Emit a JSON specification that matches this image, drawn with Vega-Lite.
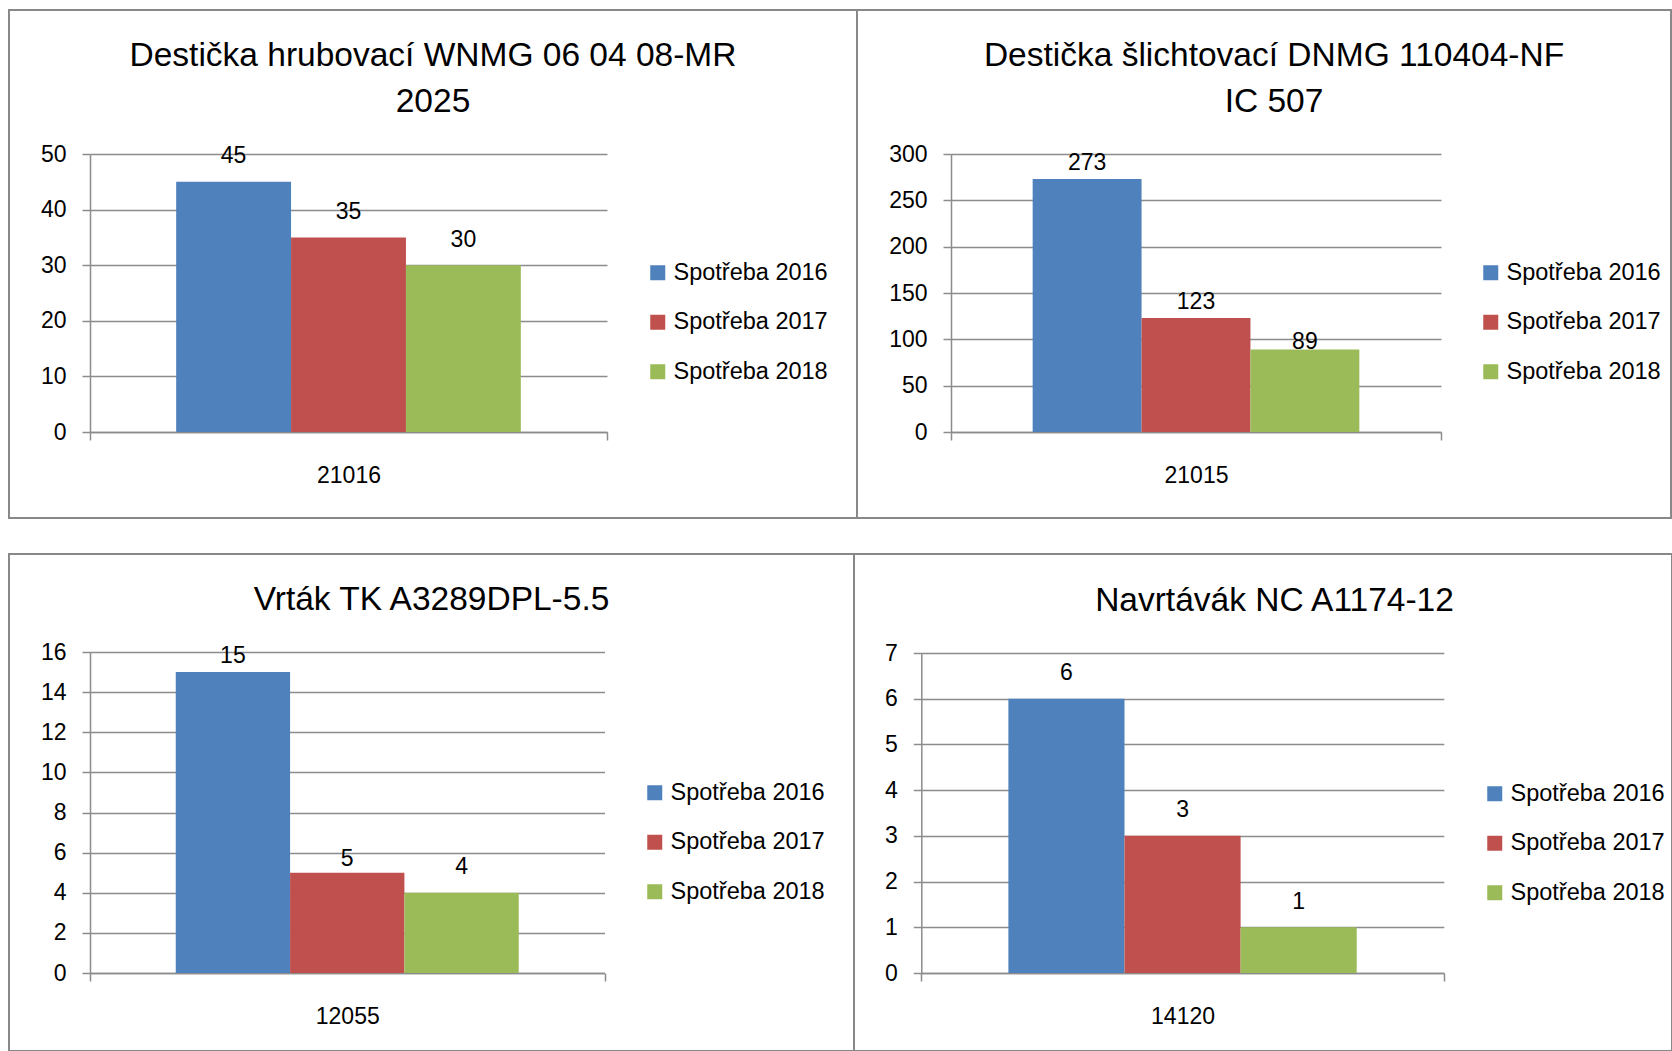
{
  "$schema": "https://vega.github.io/schema/vega-lite/v6.json",
  "padding": {"left": 8, "top": 9, "right": 0, "bottom": 0},
  "background": "white",
  "spacing": 34,
  "resolve": {"scale": {"color": "independent", "xOffset": "independent"}, "legend": {"color": "independent"}},
  "datasets": {
    "d1": [
      {"cat": "21016", "series": "Spotřeba 2016", "value": 45},
      {"cat": "21016", "series": "Spotřeba 2017", "value": 35},
      {"cat": "21016", "series": "Spotřeba 2018", "value": 30}
    ],
    "d2": [
      {"cat": "21015", "series": "Spotřeba 2016", "value": 273},
      {"cat": "21015", "series": "Spotřeba 2017", "value": 123},
      {"cat": "21015", "series": "Spotřeba 2018", "value": 89}
    ],
    "d3": [
      {"cat": "12055", "series": "Spotřeba 2016", "value": 15},
      {"cat": "12055", "series": "Spotřeba 2017", "value": 5},
      {"cat": "12055", "series": "Spotřeba 2018", "value": 4}
    ],
    "d4": [
      {"cat": "14120", "series": "Spotřeba 2016", "value": 6},
      {"cat": "14120", "series": "Spotřeba 2017", "value": 3},
      {"cat": "14120", "series": "Spotřeba 2018", "value": 1}
    ]
  },
  "vconcat": [
    {
      "spacing": 0,
      "bounds": "flush",
      "resolve": {"scale": {"color": "independent", "xOffset": "independent"}, "legend": {"color": "independent"}},
      "hconcat": [
        {
          "width": 848, "height": 508,
          "data": {"name": "d1"},
          "title": {"text": ["Destička hrubovací WNMG 06 04 08-MR", "2025"], "offset": -109},
          "encoding": {
            "x": {"field": "cat", "type": "nominal", "scale": {"range": [81, 598], "paddingInner": 0, "paddingOuter": 0}, "axis": {"offset": -86, "tickBand": "extent", "labelAngle": 0, "title": null, "ticks": true, "grid": false}},
            "xOffset": {"field": "series", "type": "nominal", "scale": {"paddingInner": 0, "paddingOuter": 0.75}},
            "y": {"field": "value", "type": "quantitative", "scale": {"domain": [0, 50], "range": [422, 144], "nice": false}, "axis": {"values": [0, 10, 20, 30, 40, 50], "offset": -81, "title": null, "grid": true}}
          },
          "layer": [
            {"mark": "bar", "encoding": {"color": {"field": "series", "type": "nominal", "scale": {"domain": ["Spotřeba 2016", "Spotřeba 2017", "Spotřeba 2018"], "range": ["#4F81BD", "#C0504D", "#9BBB59"]}, "legend": {"title": null, "orient": "none", "legendX": 637, "legendY": 251}}}},
            {"mark": {"type": "text", "dy": -18.5, "baseline": "alphabetic"}, "encoding": {"text": {"field": "value", "type": "quantitative"}}}
          ]
        },
        {
          "width": 814, "height": 508,
          "data": {"name": "d2"},
          "title": {"text": ["Destička šlichtovací DNMG 110404-NF", "IC 507"], "offset": -109, "dx": 10},
          "encoding": {
            "x": {"field": "cat", "type": "nominal", "scale": {"range": [94, 584], "paddingInner": 0, "paddingOuter": 0}, "axis": {"offset": -86, "tickBand": "extent", "labelAngle": 0, "title": null, "ticks": true, "grid": false}},
            "xOffset": {"field": "series", "type": "nominal", "scale": {"paddingInner": 0, "paddingOuter": 0.75}},
            "y": {"field": "value", "type": "quantitative", "scale": {"domain": [0, 300], "range": [422, 144], "nice": false}, "axis": {"values": [0, 50, 100, 150, 200, 250, 300], "offset": -94, "title": null, "grid": true}}
          },
          "layer": [
            {"mark": "bar", "encoding": {"color": {"field": "series", "type": "nominal", "scale": {"domain": ["Spotřeba 2016", "Spotřeba 2017", "Spotřeba 2018"], "range": ["#4F81BD", "#C0504D", "#9BBB59"]}, "legend": {"title": null, "orient": "none", "legendX": 622, "legendY": 251}}}},
            {"transform": [{"filter": "datum.series != 'Spotřeba 2018'"}], "mark": {"type": "text", "dy": -9, "baseline": "alphabetic"}, "encoding": {"text": {"field": "value", "type": "quantitative"}}},
            {"transform": [{"filter": "datum.series == 'Spotřeba 2018'"}], "mark": {"type": "text", "dy": -1, "baseline": "alphabetic"}, "encoding": {"text": {"field": "value", "type": "quantitative"}}}
          ]
        }
      ]
    },
    {
      "spacing": 0,
      "bounds": "flush",
      "resolve": {"scale": {"color": "independent", "xOffset": "independent"}, "legend": {"color": "independent"}},
      "hconcat": [
        {
          "width": 845, "height": 497,
          "data": {"name": "d3"},
          "title": {"text": "Vrták TK A3289DPL-5.5", "offset": -63},
          "encoding": {
            "x": {"field": "cat", "type": "nominal", "scale": {"range": [81, 595.5], "paddingInner": 0, "paddingOuter": 0}, "axis": {"offset": -78, "tickBand": "extent", "labelAngle": 0, "title": null, "ticks": true, "grid": false}},
            "xOffset": {"field": "series", "type": "nominal", "scale": {"paddingInner": 0, "paddingOuter": 0.75}},
            "y": {"field": "value", "type": "quantitative", "scale": {"domain": [0, 16], "range": [419, 98], "nice": false}, "axis": {"values": [0, 2, 4, 6, 8, 10, 12, 14, 16], "offset": -81, "title": null, "grid": true}}
          },
          "layer": [
            {"mark": "bar", "encoding": {"color": {"field": "series", "type": "nominal", "scale": {"domain": ["Spotřeba 2016", "Spotřeba 2017", "Spotřeba 2018"], "range": ["#4F81BD", "#C0504D", "#9BBB59"]}, "legend": {"title": null, "orient": "none", "legendX": 634, "legendY": 227}}}},
            {"transform": [{"filter": "datum.series == 'Spotřeba 2016'"}], "mark": {"type": "text", "dy": -9, "baseline": "alphabetic"}, "encoding": {"text": {"field": "value", "type": "quantitative"}}},
            {"transform": [{"filter": "datum.series == 'Spotřeba 2017'"}], "mark": {"type": "text", "dy": -7, "baseline": "alphabetic"}, "encoding": {"text": {"field": "value", "type": "quantitative"}}},
            {"transform": [{"filter": "datum.series == 'Spotřeba 2018'"}], "mark": {"type": "text", "dy": -18.5, "baseline": "alphabetic"}, "encoding": {"text": {"field": "value", "type": "quantitative"}}}
          ]
        },
        {
          "width": 818, "height": 497,
          "data": {"name": "d4"},
          "title": {"text": "Navrtávák NC A1174-12", "offset": -64, "dx": 11.5},
          "encoding": {
            "x": {"field": "cat", "type": "nominal", "scale": {"range": [67.3, 589.8], "paddingInner": 0, "paddingOuter": 0}, "axis": {"offset": -78, "tickBand": "extent", "labelAngle": 0, "title": null, "ticks": true, "grid": false}},
            "xOffset": {"field": "series", "type": "nominal", "scale": {"paddingInner": 0, "paddingOuter": 0.75}},
            "y": {"field": "value", "type": "quantitative", "scale": {"domain": [0, 7], "range": [419, 99], "nice": false}, "axis": {"values": [0, 1, 2, 3, 4, 5, 6, 7], "offset": -67.3, "title": null, "grid": true}}
          },
          "layer": [
            {"mark": "bar", "encoding": {"color": {"field": "series", "type": "nominal", "scale": {"domain": ["Spotřeba 2016", "Spotřeba 2017", "Spotřeba 2018"], "range": ["#4F81BD", "#C0504D", "#9BBB59"]}, "legend": {"title": null, "orient": "none", "legendX": 629, "legendY": 228}}}},
            {"mark": {"type": "text", "dy": -18.5, "baseline": "alphabetic"}, "encoding": {"text": {"field": "value", "type": "quantitative"}}}
          ]
        }
      ]
    }
  ],
  "config": {
    "font": "Liberation Sans",
    "view": {"stroke": "#888888", "strokeWidth": 2},
    "axis": {
      "domainColor": "#8c8c8c", "domainWidth": 1.5,
      "tickColor": "#8c8c8c", "tickWidth": 1.5, "tickSize": 8,
      "gridColor": "#8c8c8c", "gridWidth": 1.5, "gridOpacity": 1,
      "labelFont": "Liberation Sans", "labelFontSize": 23, "labelColor": "black"
    },
    "axisY": {"labelPadding": 16},
    "axisX": {"labelPadding": 24},
    "legend": {
      "labelFont": "Liberation Sans", "labelFontSize": 23.5, "labelColor": "black",
      "symbolType": "square", "symbolSize": 225, "symbolStrokeWidth": 0,
      "rowPadding": 24.5, "labelOffset": 4, "padding": 0
    },
    "title": {"font": "Liberation Sans", "fontSize": 33.5, "fontWeight": "normal", "color": "black", "anchor": "middle", "frame": "group", "lineHeight": 46},
    "text": {"font": "Liberation Sans", "fontSize": 23, "color": "black"}
  }
}
